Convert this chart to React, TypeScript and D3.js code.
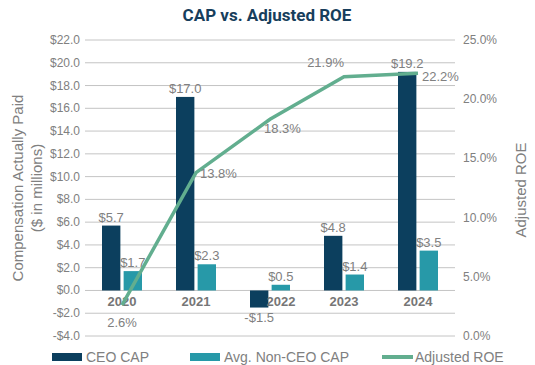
import * as d3 from "d3";

// chart data
const years = ["2020", "2021", "2022", "2023", "2024"];
const ceoCap = [5.7, 17.0, -1.5, 4.8, 19.2];
const nonCeoCap = [1.7, 2.3, 0.5, 1.4, 3.5];
const adjustedRoe = [2.6, 13.8, 18.3, 21.9, 22.2];
const leftTicks = [-4, -2, 0, 2, 4, 6, 8, 10, 12, 14, 16, 18, 20, 22];
const rightTicks = [0, 5, 10, 15, 20, 25];

const W = 535;
const H = 365;
const CEO_COLOR = "#0c3f5e";
const NON_COLOR = "#2799a8";
const ROE_COLOR = "#62ae8f";
const TEXT = "#808080";
const FONT = "'Liberation Sans', Arial, sans-serif";

// label offsets for the ROE points (dx, dy, anchor)
const roeLabelPos: [number, number, string][] = [
  [0, 22, "middle"],
  [4, 5, "start"],
  [-6, 14, "start"],
  [0, -10, "end"],
  [4, 8, "start"],
];

export default function App() {
  const x = d3.scaleBand().domain(years).range([85, 455]);
  const x1 = d3.scaleBand().domain(["ceo", "non"]).range([-20, 20]).paddingInner(0.15);
  const y = d3.scaleLinear().domain([-4, 22]).range([336, 40]);
  const yR = d3.scaleLinear().domain([0, 25]).range([336, 40]);
  const cx = (yr: string) => (x(yr) as number) + x.bandwidth() / 2;

  const line = d3
    .line<number>()
    .x((_, i) => cx(years[i]))
    .y((d) => yR(d));

  const fmt = (v: number) => (v < 0 ? `-$${Math.abs(v).toFixed(1)}` : `$${v.toFixed(1)}`);

  return (
    <svg
      width={W}
      height={H}
      style={{ position: "absolute", left: 0, top: 0, background: "#fff" }}
      fontFamily={FONT}
    >
      <text
        x={267}
        y={21}
        textAnchor="middle"
        fontFamily="Roboto, sans-serif"
        fontWeight="bold"
        fontSize={17}
        fill="#173e5c"
      >
        CAP vs. Adjusted ROE
      </text>

      {/* gridlines + left ticks */}
      {leftTicks.map((t) => (
        <g key={t}>
          <line x1={85} x2={455} y1={y(t)} y2={y(t)} stroke="#c4c4c4" strokeWidth={1} />
          <text x={80} y={y(t) + 4} textAnchor="end" fontSize={12} fill={TEXT}>
            {t < 0 ? `-$${Math.abs(t).toFixed(1)}` : `$${t.toFixed(1)}`}
          </text>
        </g>
      ))}
      {rightTicks.map((t) => (
        <text key={t} x={463} y={yR(t) + 4} fontSize={12} fill={TEXT}>
          {t.toFixed(1)}%
        </text>
      ))}

      {/* axis titles */}
      <text transform="translate(23,188) rotate(-90)" textAnchor="middle" fontSize={15} fill={TEXT}>
        Compensation Actually Paid
      </text>
      <text transform="translate(42,188) rotate(-90)" textAnchor="middle" fontSize={15} fill={TEXT}>
        ($ in millions)
      </text>
      <text transform="translate(526,190) rotate(-90)" textAnchor="middle" fontSize={15} fill={TEXT}>
        Adjusted ROE
      </text>

      {/* bars */}
      {years.map((yr, i) => {
        const c = cx(yr);
        const bx = c + (x1("ceo") as number);
        const nx = c + (x1("non") as number);
        const bw = x1.bandwidth();
        const v = ceoCap[i];
        const n = nonCeoCap[i];
        return (
          <g key={yr}>
            <rect x={bx} y={Math.min(y(v), y(0))} width={bw} height={Math.abs(y(v) - y(0))} fill={CEO_COLOR} />
            <rect x={nx} y={Math.min(y(n), y(0))} width={bw} height={Math.abs(y(n) - y(0))} fill={NON_COLOR} />
            <text
              x={bx + bw / 2}
              y={v < 0 ? y(v) + 14 : y(v) - 4}
              textAnchor="middle"
              fontSize={13}
              fill={TEXT}
            >
              {fmt(v)}
            </text>
            <text x={nx + bw / 2} y={y(n) - 4} textAnchor="middle" fontSize={13} fill={TEXT}>
              {fmt(n)}
            </text>
            <text
              x={c + (yr === "2022" ? 11 : 0)}
              y={y(0) + 16}
              textAnchor="middle"
              fontSize={13}
              fontWeight="bold"
              fill="#767676"
            >
              {yr}
            </text>
          </g>
        );
      })}

      {/* ROE line */}
      <path d={line(adjustedRoe) ?? ""} fill="none" stroke={ROE_COLOR} strokeWidth={3.5} />
      {adjustedRoe.map((v, i) => {
        const [dx, dy, anchor] = roeLabelPos[i];
        return (
          <text
            key={i}
            x={cx(years[i]) + dx}
            y={yR(v) + dy}
            textAnchor={anchor as any}
            fontSize={13}
            fill={TEXT}
          >
            {v.toFixed(1)}%
          </text>
        );
      })}

      {/* legend */}
      <g fontSize={14} fill={TEXT}>
        <rect x={52} y={353} width={30} height={8} fill={CEO_COLOR} />
        <text x={86} y={362}>CEO CAP</text>
        <rect x={190} y={353} width={30} height={8} fill={NON_COLOR} />
        <text x={224} y={362}>Avg. Non-CEO CAP</text>
        <line x1={382} x2={413} y1={357} y2={357} stroke={ROE_COLOR} strokeWidth={4} />
        <text x={415} y={362}>Adjusted ROE</text>
      </g>
    </svg>
  );
}
